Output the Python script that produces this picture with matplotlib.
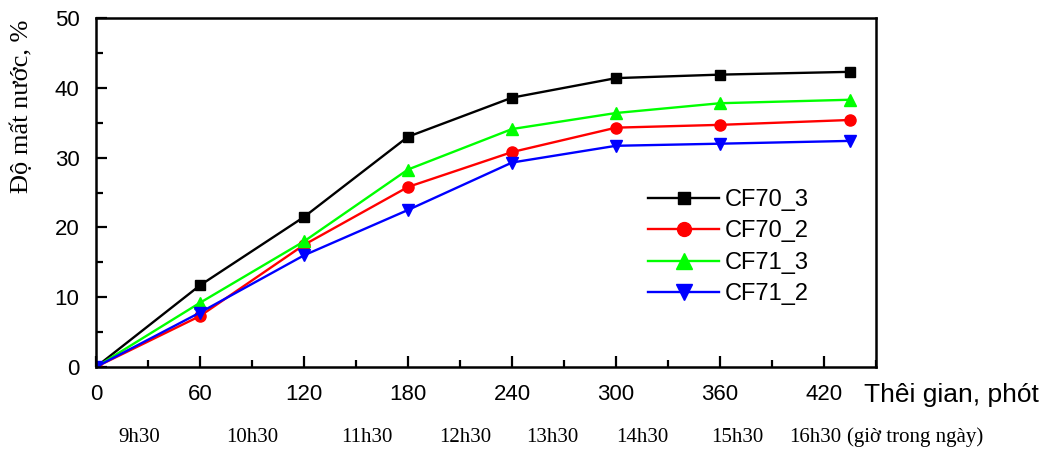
import matplotlib.pyplot as plt
from matplotlib.ticker import MultipleLocator
import matplotlib.transforms as mtransforms

# thoi gian (phut)
time_min = [0, 60, 120, 180, 240, 300, 360, 435]

cf70_3 = [0, 11.7, 21.5, 33.0, 38.6, 41.4, 41.9, 42.3]
cf70_2 = [0, 7.3, 17.5, 25.8, 30.8, 34.3, 34.7, 35.4]
cf71_3 = [0, 9.2, 18.0, 28.3, 34.1, 36.4, 37.8, 38.3]
cf71_2 = [0, 7.8, 16.0, 22.5, 29.3, 31.7, 32.0, 32.4]

hour_labels = ['9h30', '10h30', '11h30', '12h30', '13h30', '14h30', '15h30', '16h30']
hour_pos = [25, 90, 156, 213, 263, 315, 370, 415]

sans = ['Liberation Sans Narrow', 'Liberation Sans', 'DejaVu Sans']
serif = ['Liberation Serif', 'DejaVu Serif']

fig = plt.figure(figsize=(10.52, 4.53), dpi=100)
ax = fig.add_axes([0.0913, 0.19, 0.7414, 0.77])

ax.plot(time_min, cf70_3, color='black', marker='s', markersize=7, lw=1.7, label='CF70_3')
ax.plot(time_min, cf70_2, color='red', marker='o', markersize=8, lw=1.7, label='CF70_2')
ax.plot(time_min, cf71_3, color='#00ff00', marker='^', markersize=9, lw=1.7, label='CF71_3')
ax.plot(time_min, cf71_2, color='blue', marker='v', markersize=9, lw=1.7, label='CF71_2')

ax.set_xlim(0, 450)
ax.set_ylim(0, 50)
ax.xaxis.set_minor_locator(MultipleLocator(30))
ax.yaxis.set_major_locator(MultipleLocator(10))
ax.yaxis.set_minor_locator(MultipleLocator(5))
ax.set_xticks(range(0, 421, 60))
ax.tick_params(which='major', direction='in', length=8, width=1.6)
ax.tick_params(which='minor', direction='in', length=5, width=1.6)
ax.tick_params(axis='x', which='major', pad=12)
ax.tick_params(axis='y', which='major', pad=12)
for lab in ax.get_xticklabels() + ax.get_yticklabels():
    lab.set_family(sans)
    lab.set_fontsize(16)
for sp in ax.spines.values():
    sp.set_linewidth(1.8)

fig.text(22 / 1052, 1 - 106 / 453, 'Độ mất nước, %', family=serif, fontsize=19,
         rotation=90, ha='center', va='center')
ax.text(0.984, -0.08, 'Thêi gian, phót', transform=ax.transAxes, family=sans,
        fontsize=19, ha='left', va='center')

trans = mtransforms.blended_transform_factory(ax.transData, ax.transAxes)
for lbl, xp in zip(hour_labels, hour_pos):
    ax.text(xp, -0.202, lbl, transform=trans, family=serif, fontsize=15, ha='center', va='center')
ax.text(433, -0.202, '(giờ trong ngày)', transform=trans, family=serif, fontsize=15,
        ha='left', va='center')

leg = ax.legend(loc='upper left', bbox_to_anchor=(0.708, 0.51), frameon=False,
                prop={'family': sans, 'size': 17}, handlelength=3.0, markerscale=1.25,
                labelspacing=0.4, handletextpad=0.25, borderaxespad=0, borderpad=0)

fig.savefig('out.png', dpi=100)
